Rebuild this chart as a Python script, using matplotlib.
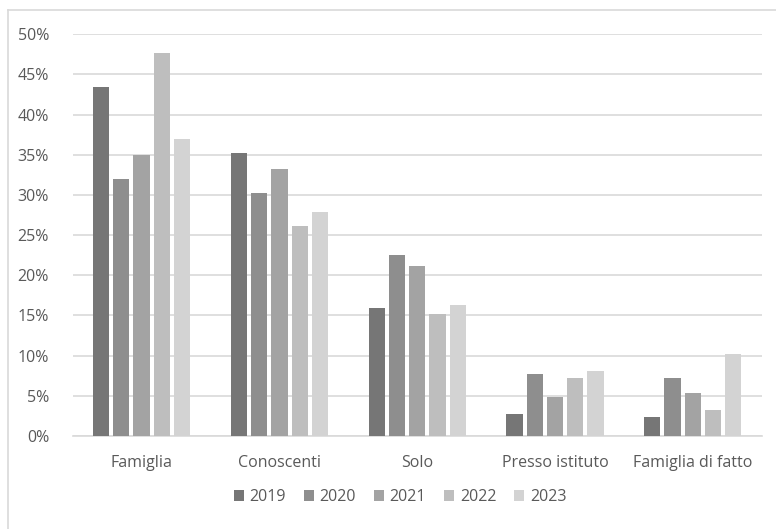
import matplotlib
matplotlib.use("Agg")
import matplotlib.pyplot as plt
import numpy as np
from matplotlib.lines import Line2D
from matplotlib.ticker import FuncFormatter, MultipleLocator

categories = ["Famiglia", "Conoscenti", "Solo", "Presso istituto", "Famiglia di fatto"]
years = ["2019", "2020", "2021", "2022", "2023"]
v2019 = [43.4, 35.2, 15.9, 2.7, 2.4]
v2020 = [32.0, 30.3, 22.5, 7.7, 7.2]
v2021 = [35.0, 33.2, 21.2, 4.8, 5.3]
v2022 = [47.7, 26.2, 15.2, 7.2, 3.2]
v2023 = [37.0, 27.9, 16.3, 8.1, 10.2]
series = [v2019, v2020, v2021, v2022, v2023]
colors = ["#767676", "#8e8e8e", "#a3a3a3", "#bebebe", "#d3d3d3"]

plt.rcParams['font.family'] = ['Open Sans', 'DejaVu Sans']
fig = plt.figure(figsize=(7.76, 5.29), dpi=100)
W, H = 776, 529
ax = fig.add_axes([72.7 / W, 1 - 436 / H, (761.7 - 72.7) / W, (436 - 34.3) / H])

x = np.arange(len(categories))
step = 0.147
bw = 0.118
for i, (vals, c) in enumerate(zip(series, colors)):
    ax.bar(x + (i - 2) * step, vals, width=bw, color=c, label=years[i], zorder=3)

ax.set_xlim(-0.5, len(categories) - 0.5)
ax.set_ylim(0, 50)
ax.yaxis.set_major_locator(MultipleLocator(5))
ax.yaxis.set_major_formatter(FuncFormatter(lambda v, p: f"{int(round(v))}%"))
ax.grid(axis='y', color='#d9d9d9', linewidth=1.2, zorder=0)
for s in ['top', 'right', 'left']:
    ax.spines[s].set_visible(False)
ax.spines['bottom'].set_color('#d9d9d9')
ax.spines['bottom'].set_linewidth(1.2)
ax.set_xticks(x)
ax.set_xticklabels(categories)
ax.tick_params(axis='both', length=0, colors='#595959', labelsize=11.5)
ax.tick_params(axis='x', pad=14)
ax.tick_params(axis='y', pad=17)

leg = fig.legend(loc='center', bbox_to_anchor=(400 / W, 1 - 497 / H), ncol=5, frameon=False,
                 fontsize=11.5, handlelength=0.65, handleheight=0.65, handletextpad=0.35,
                 columnspacing=1.1, labelcolor='#595959')

# chart border (top & left visible)
fig.add_artist(Line2D([8 / W, 8 / W], [0, 1 - 10 / H], transform=fig.transFigure, color='#d9d9d9', linewidth=1.2))
fig.add_artist(Line2D([8 / W, 1], [1 - 10 / H, 1 - 10 / H], transform=fig.transFigure, color='#d9d9d9', linewidth=1.2))

fig.savefig("out.png", dpi=100)
